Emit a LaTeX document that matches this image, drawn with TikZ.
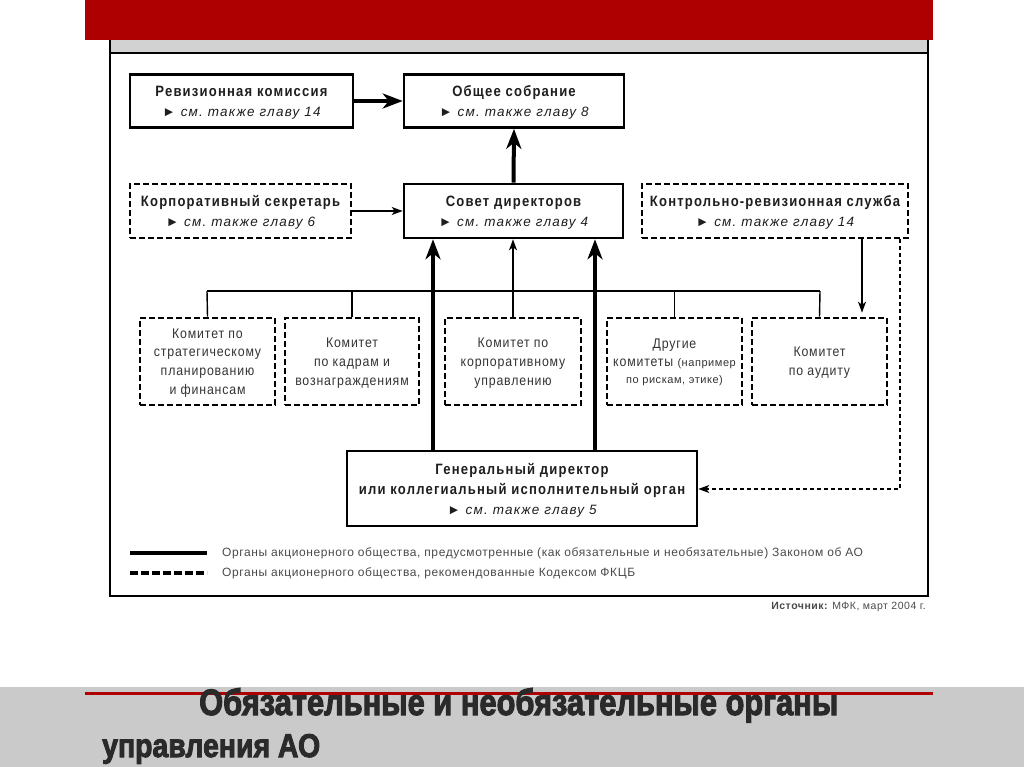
\documentclass[tikz,border=0pt]{standalone}
\usepackage{fontspec}
\setmainfont{Liberation Sans}[FakeStretch=0.87, LetterSpace=8]
\newfontfamily\commfont[FakeStretch=0.88, LetterSpace=6]{Liberation Sans}
\newfontfamily\legfont[LetterSpace=5]{Liberation Sans}
\newfontfamily\seefont[LetterSpace=9]{Liberation Sans}
\newfontfamily\heavyfont[FakeBold=3]{Liberation Sans}
\usepackage{graphicx}
\usetikzlibrary{arrows.meta}
\definecolor{bannerred}{HTML}{AE0000}
\definecolor{bandgray}{HTML}{CACACA}
\definecolor{stripgray}{HTML}{D2D2D2}
\definecolor{titlegray}{HTML}{2A2A2A}
\definecolor{txtdark}{HTML}{1E1E1E}
\definecolor{commtxt}{HTML}{333333}
\definecolor{legtxt}{HTML}{4A4A4A}
\newcommand{\seech}[1]{{\seefont\fontsize{13.5}{20}\selectfont\itshape ►\ см.\ также главу #1}}
\newcommand{\smallc}[1]{{\legfont\fontsize{11}{17.5}\selectfont #1}}
\begin{document}
\begin{tikzpicture}[x=1pt,y=-1pt,
  orgbox/.style={draw=black, line width=2.6pt, align=center, inner sep=0pt,
    text=txtdark, text depth=0pt, font=\fontsize{15}{20}\selectfont},
  dorgbox/.style={orgbox, dash pattern=on 6pt off 3pt},
  commbox/.style={draw=black, line width=2.6pt, dash pattern=on 6pt off 3pt,
    align=center, inner sep=0pt, text=commtxt, text depth=0pt,
    font=\commfont\fontsize{14}{18.7}\selectfont, minimum height=87pt},
  bigarrow/.style={line width=4pt, -{Stealth[length=20pt,width=15pt,inset=6pt]}},
  thinline/.style={line width=1.4pt},
  thinarrow/.style={line width=1.4pt, -{Stealth[length=11pt,width=8pt,inset=3pt]}},
  legtext/.style={anchor=west, text=legtxt, font=\legfont\fontsize{12}{13}\selectfont, inner sep=0pt}
]
\useasboundingbox (0,0) rectangle (1024,767);
% banner
\fill[bannerred] (85,0) rectangle (933,40);
% frame
\fill[stripgray] (110,40) rectangle (928,52);
\draw[line width=2pt] (110,40) -- (110,596) -- (928,596) -- (928,40);
\draw[line width=2.6pt] (110,53) -- (928,53);
% boxes
\node[orgbox, minimum width=223pt, minimum height=53pt] (rev) at (241.5,101)
  {{\bfseries Ревизионная комиссия}\\\seech{14}};
\node[orgbox, minimum width=220pt, minimum height=53pt] (obs) at (514,101)
  {{\bfseries Общее собрание}\\\seech{8}};
\node[dorgbox, minimum width=221pt, minimum height=54pt] (sec) at (240.5,211)
  {{\bfseries Корпоративный секретарь}\\\seech{6}};
\node[orgbox, minimum width=219pt, minimum height=54pt] (sov) at (513.5,211)
  {{\bfseries Совет директоров}\\\seech{4}};
\node[dorgbox, minimum width=266pt, minimum height=54pt] (krs) at (775,211)
  {{\bfseries Контрольно-ревизионная служба}\\\seech{14}};
\node[commbox, minimum width=135pt] (c1) at (207.5,361.5)
  {Комитет по\\стратегическому\\планированию\\и финансам};
\node[commbox, minimum width=134pt] (c2) at (352,361.5)
  {Комитет\\по кадрам и\\вознаграждениям};
\node[commbox, minimum width=136pt] (c3) at (513,361.5)
  {Комитет по\\корпоративному\\управлению};
\node[commbox, minimum width=135pt, font=\commfont\fontsize{14}{17.5}\selectfont] (c4) at (674.5,361.5)
  {Другие\\комитеты \smallc{(например}\\\smallc{по рискам, этике)}};
\node[commbox, minimum width=135pt] (c5) at (819.5,361.5)
  {Комитет\\по аудиту};
\node[orgbox, minimum width=350pt, minimum height=75pt] (gd) at (522,488.5)
  {{\bfseries Генеральный директор}\\{\bfseries или коллегиальный исполнительный орган}\\\seech{5}};
% coordinates
\coordinate (busL) at (207,291);
\coordinate (busR) at (820,291);
\coordinate (busM) at (513,291);
\coordinate (fbturn) at (900,489);
% connectors
\draw[bigarrow] (rev.east) -- (obs.west);
\draw[bigarrow] (sov.north) -- (obs.south);
\draw[thinarrow] (sec.east) -- (sov.west);
\draw[thinline] (busL) -- (busR);
\draw[thinline] (busL) -- (c1.north);
\draw[thinline] (c2.north |- busL) -- (c2.north);
\draw[thinline] (busM) -- (c3.north);
\draw[thinline] (c4.north |- busL) -- (c4.north);
\draw[thinline] (busR) -- (c5.north);
\draw[thinarrow] (busM) -- (sov.south -| busM);
\draw[bigarrow] (gd.north -| 433,0) -- (sov.south -| 433,0);
\draw[bigarrow] (gd.north -| 595,0) -- (sov.south -| 595,0);
\draw[thinarrow, shorten >=4pt] (krs.south -| 862,0) -- (c5.north -| 862,0);
\draw[thinarrow, dash pattern=on 4pt off 3pt] (krs.south -| fbturn) -- (fbturn) -- (gd.east |- fbturn);
% legend
\coordinate (l1a) at (130,553); \coordinate (l1b) at (207,553);
\coordinate (l2a) at (130,573); \coordinate (l2b) at (207,573);
\draw[line width=3.6pt] (l1a) -- (l1b);
\draw[line width=3.6pt, dash pattern=on 8pt off 3pt] (l2a) -- (l2b);
\node[legtext] (lt1) at (222,553) {Органы акционерного общества, предусмотренные (как обязательные и необязательные) Законом об АО};
\node[legtext] (lt2) at (222,573) {Органы акционерного общества, рекомендованные Кодексом ФКЦБ};
\node[anchor=east, text=legtxt, font=\legfont\fontsize{10.5}{12}\selectfont, inner sep=0pt] (src) at (926,607)
  {{\bfseries Источник:} МФК, март 2004 г.};
% bottom title band
\fill[bandgray] (0,687) rectangle (1024,767);
\draw[bannerred, line width=3pt] (85,693) -- (933,693);
\node[anchor=base west, inner sep=0pt, text=titlegray] (t1) at (199,715)
  {\resizebox{639pt}{27pt}{\heavyfont\bfseries Обязательные и необязательные органы}};
\node[anchor=base west, inner sep=0pt, text=titlegray] (t2) at (102,757)
  {\resizebox{218pt}{23pt}{\heavyfont\bfseries управления АО}};
\end{tikzpicture}
\end{document}
